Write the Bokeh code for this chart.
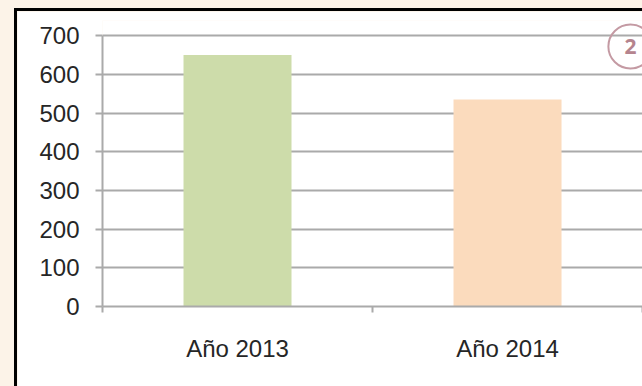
from bokeh.plotting import figure
from bokeh.models import FixedTicker, Range1d
from bokeh.embed import file_html
from bokeh.resources import INLINE
from bokeh.core.properties import value

# ---- data ----
categories = ["Año 2013", "Año 2014"]
values = [650, 535]
bar_colors = ["#cddcaa", "#fbdbbd"]
y_ticks = [0, 100, 200, 300, 400, 500, 600, 700]
badge_text = ["2"]

xs = [i + 0.5 for i in range(len(categories))]
bounds_ticks = list(range(len(categories) + 1))

GRID = "#aaaaaa"
LABEL = "#262626"
FONT = "Liberation Sans"

p = figure(width=628, height=378, output_backend="svg", toolbar_location=None,
           x_range=Range1d(0, 2.011), y_range=Range1d(0, 739.2),
           min_border_left=85, min_border_right=0, min_border_top=9,
           min_border_bottom=83)
p.outline_line_color = None
p.background_fill_color = "white"
p.border_fill_color = "white"
p.styles = {"border-left": "3px solid black", "border-top": "3px solid black",
            "margin-left": "14px", "margin-top": "8px"}

p.vbar(x=xs, top=values, width=0.4, bottom=0, fill_color=bar_colors, line_color=None)

# x axis: labels at centres, ticks at category boundaries
p.xgrid.visible = False
p.xaxis.ticker = FixedTicker(ticks=xs, minor_ticks=bounds_ticks)
p.xaxis.major_label_overrides = {x: c for x, c in zip(xs, categories)}
p.xaxis.bounds = (0, len(categories))
p.xaxis.major_tick_out = 0
p.xaxis.major_tick_in = 0
p.xaxis.minor_tick_out = 6
p.xaxis.minor_tick_in = 0
p.xaxis.minor_tick_line_color = GRID
p.xaxis.minor_tick_line_width = 2
p.xaxis.axis_line_color = GRID
p.xaxis.axis_line_width = 2
p.xaxis.major_label_standoff = 22
p.xaxis.major_label_text_font = FONT
p.xaxis.major_label_text_font_size = "24px"
p.xaxis.major_label_text_color = LABEL

# y axis
p.yaxis.ticker = FixedTicker(ticks=y_ticks)
p.yaxis.bounds = (y_ticks[0], y_ticks[-1])
p.yaxis.major_tick_out = 7
p.yaxis.major_tick_in = 0
p.yaxis.minor_tick_out = 0
p.yaxis.minor_tick_in = 0
p.yaxis.major_tick_line_color = GRID
p.yaxis.major_tick_line_width = 2
p.yaxis.axis_line_color = GRID
p.yaxis.axis_line_width = 2
p.yaxis.major_label_standoff = 16
p.yaxis.major_label_text_font = FONT
p.yaxis.major_label_text_font_size = "24px"
p.yaxis.major_label_text_color = LABEL

p.ygrid.ticker = FixedTicker(ticks=y_ticks)
p.ygrid.grid_line_color = GRID
p.ygrid.grid_line_width = 2

# badge
p.scatter(x=[1.955], y=[672], size=44, marker="circle", fill_color=None,
          line_color="#c49aa3", line_width=2)
p.text(x=[1.955], y=[672], text=badge_text, text_align="center", text_baseline="middle",
       text_font=value("Open Sans"), text_font_style="bold", text_font_size="21px",
       text_color="#b5848e")

html = file_html(p, INLINE)
html = html.replace("</head>",
                    "<style>html,body{background:#fcf3e8;overflow:hidden;}</style></head>", 1)
open("out.html", "w").write(html)
